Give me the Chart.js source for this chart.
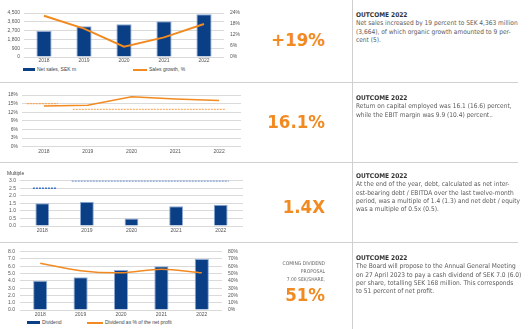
<!DOCTYPE html>
<html lang="en">
<head>
<meta charset="UTF-8">
<title>Outcome 2022</title>
<script src="https://cdn.jsdelivr.net/npm/chart.js"></script>
<style>
  body { margin:0; width:530px; height:329px; background:#fff; position:relative; overflow:hidden;
         font-family:'DejaVu Sans Condensed', 'DejaVu Sans', sans-serif; }
  canvas { position:absolute; left:0; }
  .hline { position:absolute; left:0; width:518px; height:1px; background:#d0d0d0; }
  .vline { position:absolute; left:352px; top:0; width:1px; height:329px; background:#d0d0d0; }
  .big { position:absolute; right:205px; font-weight:bold; color:#f18a21; font-size:18.5px; line-height:19px; }
  .small { position:absolute; right:205px; font-size:5px; line-height:8px; color:#666; text-align:right; }
  .note { position:absolute; left:356px; font-size:6.55px; line-height:8.3px; color:#5a5a5a; white-space:nowrap; }
  .note b { color:#333; }
  .lg { position:absolute; font-family:'Liberation Sans', sans-serif; font-size:5px; line-height:6px; color:#444; white-space:nowrap; }
  .lg i { display:inline-block; vertical-align:middle; margin-right:2px; }
</style>
</head>
<body>
<canvas id="c1" width="250" height="66" style="top:0"></canvas>
<canvas id="c2" width="250" height="74" style="top:82px"></canvas>
<canvas id="c3" width="250" height="72" style="top:162px"></canvas>
<canvas id="c4" width="250" height="77" style="top:242px"></canvas>

<div class="lg" style="left:23px;top:66px"><i style="width:12px;height:3px;background:#0a3f86"></i>Net sales, SEK m</div>
<div class="lg" style="left:133px;top:66px"><i style="width:14px;height:2px;background:#f18a21"></i>Sales growth, %</div>
<div class="lg" style="left:27px;top:319px"><i style="width:13px;height:3px;background:#0a3f86"></i>Dividend</div>
<div class="lg" style="left:87px;top:319px"><i style="width:16px;height:2px;background:#f18a21"></i>Dividend as % of the net profit</div>

<div class="hline" style="top:82px"></div>
<div class="hline" style="top:162px"></div>
<div class="hline" style="top:242px"></div>
<div class="vline"></div>

<div class="big" style="top:30px">+19%</div>
<div class="big" style="top:112px">16.1%</div>
<div class="big" style="top:197px">1.4X</div>
<div class="small" style="top:259px">COMING DIVIDEND<br>PROPOSAL<br>7.00 SEK/SHARE,</div>
<div class="big" style="top:285px">51%</div>

<div class="note" style="top:11px"><b>OUTCOME 2022</b><br>
Net sales increased by 19 percent to SEK 4,363 million<br>
(3,664), of which organic growth amounted to 9 per-<br>
cent (5).</div>
<div class="note" style="top:94px"><b>OUTCOME 2022</b><br>
Return on capital employed was 16.1 (16.6) percent,<br>
while the EBIT margin was 9.9 (10.4) percent..</div>
<div class="note" style="top:172px"><b>OUTCOME 2022</b><br>
At the end of the year, debt, calculated as net inter-<br>
est-bearing debt / EBITDA over the last twelve-month<br>
period, was a multiple of 1.4 (1.3) and net debt / equity<br>
was a multiple of 0.5x (0.5).</div>
<div class="note" style="top:254px"><b>OUTCOME 2022</b><br>
The Board will propose to the Annual General Meeting<br>
on 27 April 2023 to pay a cash dividend of SEK 7.0 (6.0)<br>
per share, totalling SEK 168 million. This corresponds<br>
to 51 percent of net profit.</div>

<script>
const years = ['2018', '2019', '2020', '2021', '2022'];
const netSales = [2670, 3150, 3340, 3664, 4363];
const salesGrowth = [22.5, 15.5, 5.6, 10.7, 18];
const roce = [14.2, 14.4, 17.4, 16.6, 16.1];
const roceTarget2018 = 15;
const roceTarget = 13;
const debtMultiple = [1.5, 1.6, 0.5, 1.3, 1.4];
const debtTarget2018 = 2.5;
const debtTarget = 3.0;
const dividend = [4.0, 4.5, 5.5, 6.0, 7.0];
const payout = [64, 54, 51, 56, 51];

// category index span covered by each target line (2018 only / 2019 onwards)
const roceSpans = [[-0.39, 0.32], [0.66, 4.14]];
const debtSpans = [[-0.21, 0.33], [0.66, 4.18]];

const NAVY = '#0a3f86';
const ORANGE = '#f18a21';
const GRID = '#dadada';
const tickFont = { family: 'Liberation Sans', size: 5 };

function fixW(w) { return s => { s.width = w; }; }
function fixH(h) { return s => { s.height = h; }; }

function yAxis(min, max, step, width, fmt, pad, pos) {
    return {
        position: pos || 'left',
        min: min, max: max,
        ticks: { stepSize: step, autoSkip: false, padding: pad, font: tickFont, color: '#555', callback: fmt },
        grid: { color: GRID, drawTicks: false, display: pos !== 'right' },
        border: { display: false },
        afterFit: fixW(width)
    };
}
function xAxis(h, pad) {
    return {
        type: 'category',
        offset: true,
        ticks: { autoSkip: false, maxRotation: 0, padding: pad, font: tickFont, color: '#555' },
        grid: { display: false, drawTicks: false, offset: true },
        border: { display: false },
        afterFit: fixH(h)
    };
}
const hiddenX = { type: 'linear', display: false, offset: false, min: -0.5, max: 4.5 };

function span(s, v) { return [{ x: s[0], y: v }, { x: s[1], y: v }]; }
function target(s, v, color) {
    return { type: 'line', data: span(s, v), xAxisID: 'xt', borderColor: color, borderWidth: 1.4,
             borderDash: [2, 1], pointRadius: 0, order: 0 };
}

const base = {
    responsive: false,
    animation: false,
    plugins: { legend: { display: false }, tooltip: { enabled: false } }
};

// Net sales + growth
new Chart(document.getElementById('c1'), {
    type: 'bar',
    data: {
        labels: years,
        datasets: [
            { type: 'line', data: salesGrowth, yAxisID: 'y1', borderColor: ORANGE, borderWidth: 2, pointRadius: 0, order: 0 },
            { data: netSales, backgroundColor: NAVY, borderColor: '#8eaad4', borderWidth: 1, grouped: false, categoryPercentage: 1, barPercentage: 0.38, order: 1 }
        ]
    },
    options: Object.assign({}, base, {
        layout: { padding: { top: 13, left: 0, right: 0, bottom: 0 } },
        scales: {
            x: xAxis(9, 1),
            y: yAxis(0, 4500, 900, 24, v => v.toLocaleString('en-US'), 4),
            y1: yAxis(0, 24, 6, 26, v => v + '%', 6, 'right')
        }
    })
});

// Return on capital employed
new Chart(document.getElementById('c2'), {
    type: 'bar',
    data: {
        labels: years,
        datasets: [
            { type: 'line', data: roce, borderColor: ORANGE, borderWidth: 1.5, pointRadius: 0, order: 1 },
            target(roceSpans[0], roceTarget2018, '#f4a75a'),
            target(roceSpans[1], roceTarget, '#f6b46f')
        ]
    },
    options: Object.assign({}, base, {
        layout: { padding: { top: 13, left: 0, right: 9, bottom: 0 } },
        scales: {
            x: xAxis(9.3, 2),
            xt: hiddenX,
            y: yAxis(0, 18, 3, 22, v => v + '%', 4)
        }
    })
});

// Net debt / EBITDA
new Chart(document.getElementById('c3'), {
    type: 'bar',
    data: {
        labels: years,
        datasets: [
            target(debtSpans[0], debtTarget2018, '#3c74c6'),
            target(debtSpans[1], debtTarget, '#3c74c6'),
            { data: debtMultiple, backgroundColor: NAVY, borderColor: '#8eaad4', borderWidth: 1, grouped: false, categoryPercentage: 1, barPercentage: 0.31, order: 1 }
        ]
    },
    options: Object.assign({}, base, {
        layout: { padding: { top: 0, left: 7, right: 7, bottom: 0 } },
        plugins: {
            legend: { display: false }, tooltip: { enabled: false },
            title: { display: true, text: 'Multiple', align: 'start', color: '#444',
                     font: { family: 'Liberation Sans', size: 5, weight: 'normal' }, padding: { top: 9, bottom: 3.7 } }
        },
        scales: {
            x: xAxis(8, 2),
            xt: hiddenX,
            y: yAxis(0, 3, 0.5, 13, v => v.toFixed(1), 4)
        }
    })
});

// Dividend
new Chart(document.getElementById('c4'), {
    type: 'bar',
    data: {
        labels: years,
        datasets: [
            { type: 'line', data: payout, yAxisID: 'y1', borderColor: ORANGE, borderWidth: 1.5, pointRadius: 0, tension: 0.3, order: 0 },
            { data: dividend, backgroundColor: NAVY, borderColor: '#8eaad4', borderWidth: 1, grouped: false, categoryPercentage: 1, barPercentage: 0.35, order: 1 }
        ]
    },
    options: Object.assign({}, base, {
        layout: { padding: { top: 9.7, left: 0, right: 0, bottom: 0 } },
        scales: {
            x: xAxis(8, 1.5),
            y: yAxis(0, 8, 1, 20, v => v.toFixed(1), 5),
            y1: yAxis(0, 80, 10, 28, v => v + '%', 6, 'right')
        }
    })
});
</script>
</body>
</html>
